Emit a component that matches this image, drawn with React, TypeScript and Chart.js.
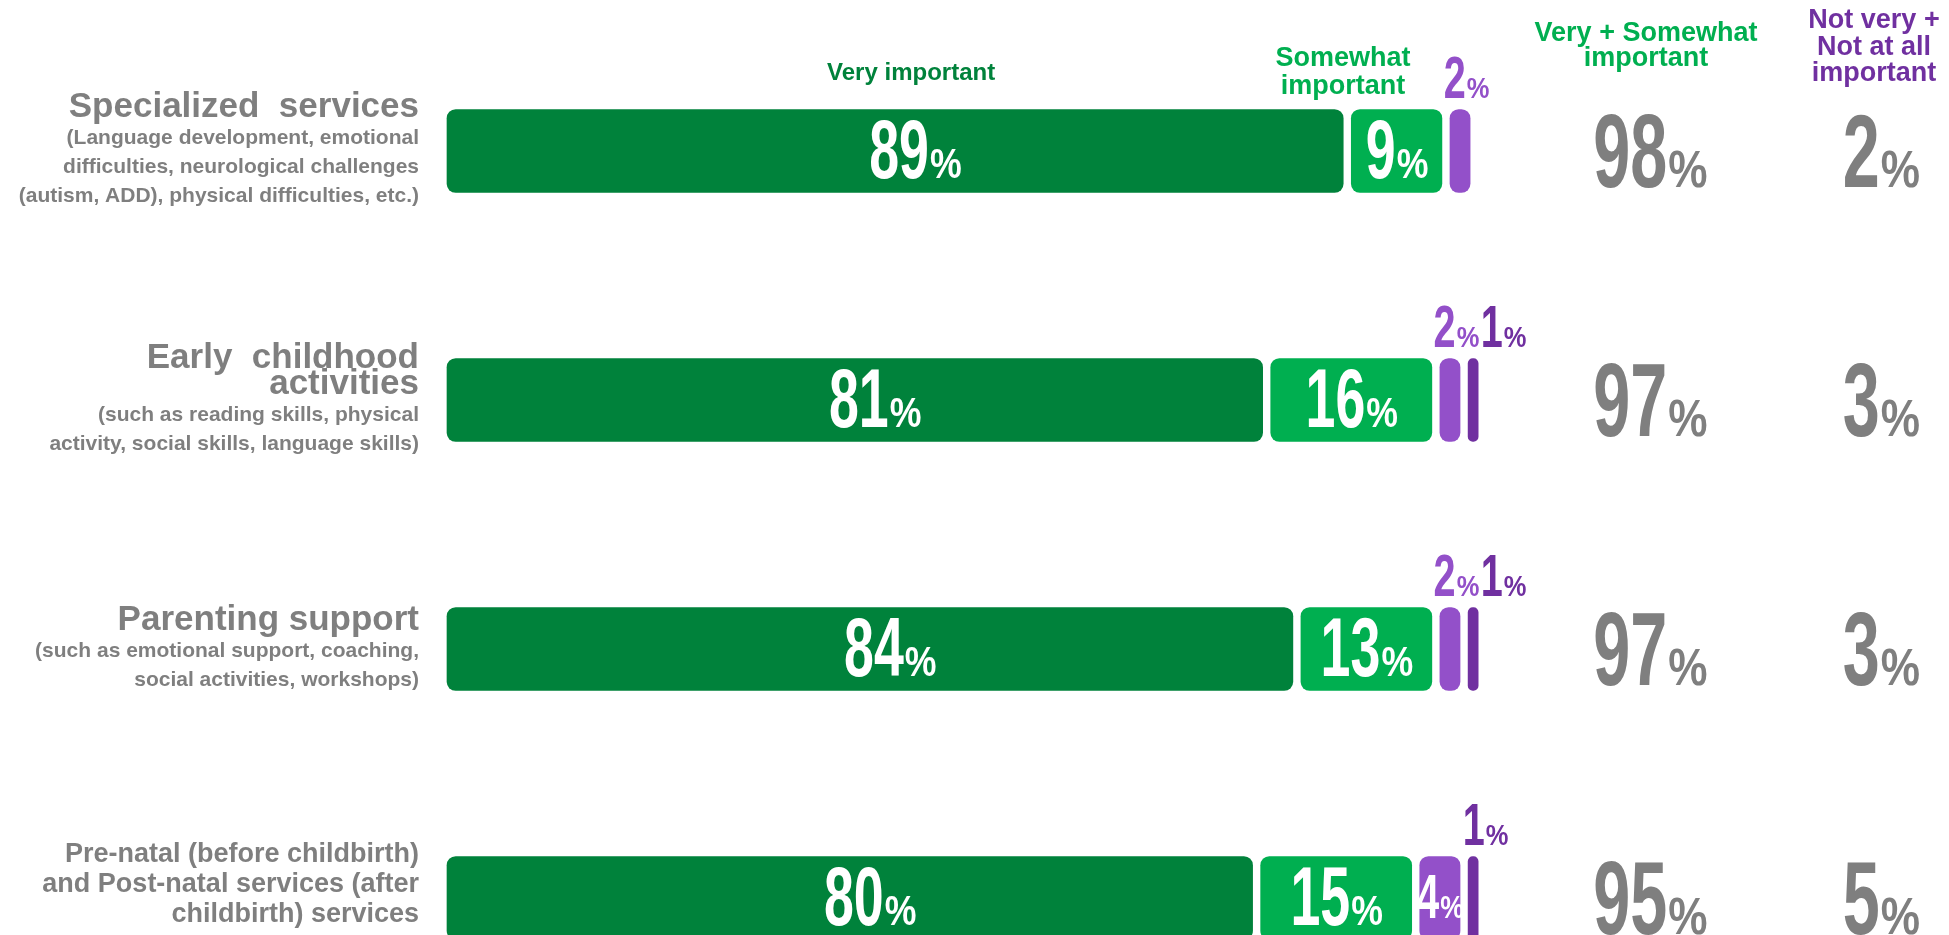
import React, { useEffect, useRef } from "react";
import { Chart, registerables } from "chart.js";

Chart.register(...registerables);

// ---------- data ----------
const CATEGORIES = [
  "Specialized services",
  "Early childhood activities",
  "Parenting support",
  "Pre-natal and Post-natal services",
];

type LineKind = "title" | "sub" | "plain";
const CATEGORY_LINES: { t: string; k: LineKind }[][] = [
  [
    { t: "Specialized  services", k: "title" },
    { t: "(Language development, emotional", k: "sub" },
    { t: "difficulties, neurological challenges", k: "sub" },
    { t: "(autism, ADD), physical difficulties, etc.)", k: "sub" },
  ],
  [
    { t: "Early  childhood", k: "title" },
    { t: "activities", k: "title" },
    { t: "(such as reading skills, physical", k: "sub" },
    { t: "activity, social skills, language skills)", k: "sub" },
  ],
  [
    { t: "Parenting support", k: "title" },
    { t: "(such as emotional support, coaching,", k: "sub" },
    { t: "social activities, workshops)", k: "sub" },
  ],
  [
    { t: "Pre-natal (before childbirth)", k: "plain" },
    { t: "and Post-natal services (after", k: "plain" },
    { t: "childbirth) services", k: "plain" },
  ],
];

const SERIES_NAMES = [
  "Very important",
  "Somewhat important",
  "Not very important",
  "Not at all important",
];
const VERY = [89, 81, 84, 80];
const SOMEWHAT = [9, 16, 13, 15];
const NOT_VERY = [2, 2, 2, 4];
const NOT_AT_ALL = [0, 1, 1, 1];

const HEADER_SOMEWHAT = ["Somewhat", "important"];
const HEADER_TOP2 = ["Very + Somewhat", "important"];
const HEADER_BOTTOM2 = ["Not very +", "Not at all", "important"];

// ---------- style ----------
const COLORS = ["#00823B", "#00AF50", "#9350C9", "#7030A0"];
const GRAY = "#7f7f7f";
const FONT = '"Liberation Sans", Arial, sans-serif';
const GAP = 0.8;
const X_MAX = 110;
const PX_PER_UNIT = 10.07;
const W = 1949;
const H = 935;
const LEFT = 447;

const SERIES = [VERY, SOMEWHAT, NOT_VERY, NOT_AT_ALL];
const TOP2 = VERY.map((v, i) => v + SOMEWHAT[i]);
const BOTTOM2 = NOT_VERY.map((v, i) => v + NOT_AT_ALL[i]);

function drawPct(
  ctx: CanvasRenderingContext2D,
  n: number,
  x: number,
  baseline: number,
  size: number,
  color: string,
  weight: string,
  sx: number,
  mode: "center" | "digits"
) {
  const numFont = `${weight} ${size}px ${FONT}`;
  const pSize = size * 0.5;
  const pFont = `${weight} ${pSize}px ${FONT}`;
  const psx = 0.85;
  ctx.font = numFont;
  const nw = ctx.measureText(String(n)).width * sx;
  ctx.font = pFont;
  const pw = ctx.measureText("%").width * psx;
  const start = mode === "digits" ? x - nw / 2 : x - (nw + pw) / 2;
  ctx.save();
  ctx.fillStyle = color;
  ctx.textAlign = "left";
  ctx.textBaseline = "alphabetic";
  ctx.translate(start, baseline);
  ctx.scale(sx, 1);
  ctx.font = numFont;
  ctx.fillText(String(n), 0, 0);
  ctx.restore();
  ctx.save();
  ctx.fillStyle = color;
  ctx.textAlign = "left";
  ctx.textBaseline = "alphabetic";
  ctx.translate(start + nw + 1, baseline);
  ctx.scale(psx, 1);
  ctx.font = pFont;
  ctx.fillText("%", 0, 0);
  ctx.restore();
}

const KIND_SIZE: Record<LineKind, number> = { title: 35, sub: 21, plain: 27 };
function lineGap(prev: LineKind, next: LineKind) {
  if (prev === "title" && next === "title") return 26;
  if (prev === "title" && next === "sub") return 27;
  if (prev === "plain") return 30;
  return 29;
}

const annotPlugin = {
  id: "annot",
  afterDatasetsDraw(chart: any) {
    const ctx: CanvasRenderingContext2D = chart.ctx;
    const yScale = chart.scales.y;
    const xScale = chart.scales.x;

    // segment labels
    CATEGORIES.forEach((_, i) => {
      let prevAbove = false;
      SERIES.forEach((vals, j) => {
        const v = vals[i];
        if (!v) return;
        const el = chart.getDatasetMeta(j).data[i];
        if (!el) return;
        const p = el.getProps(["x", "base", "y", "height"], true);
        const left = Math.min(p.x, p.base);
        const right = Math.max(p.x, p.base);
        const w = right - left;
        const cx = (left + right) / 2;
        if (w >= 40) {
          const size = w >= 70 ? 84 : 63;
          const baseline = p.y + 0.358 * size - 3;
          drawPct(ctx, v, j === 0 ? cx + 4 : cx, baseline, size, "#ffffff", "bold", 0.64, j === 0 ? "digits" : "center");
          prevAbove = false;
        } else {
          const baseline = p.y - p.height / 2 - 12;
          const off = prevAbove ? 30 : j === 3 ? 12 : 6;
          drawPct(ctx, v, cx + off, baseline, 60, COLORS[j], "bold", 0.66, "center");
          prevAbove = true;
        }
      });
    });

    // category labels
    ctx.save();
    ctx.fillStyle = GRAY;
    ctx.textAlign = "right";
    ctx.textBaseline = "alphabetic";
    CATEGORY_LINES.forEach((lines, i) => {
      const c = yScale.getPixelForValue(i);
      const rel: number[] = [0];
      for (let k = 1; k < lines.length; k++) rel.push(rel[k - 1] + lineGap(lines[k - 1].k, lines[k].k));
      const capTop = -0.716 * KIND_SIZE[lines[0].k];
      const mid = (capTop + rel[rel.length - 1]) / 2;
      const hasTitle = lines.some((l) => l.k === "title");
      const b0 = c - (hasTitle ? 4 : 16) - mid;
      lines.forEach((ln, k) => {
        ctx.font = `bold ${KIND_SIZE[ln.k]}px ${FONT}`;
        ctx.fillText(ln.t, LEFT - 28, b0 + rel[k]);
      });
    });
    ctx.restore();

    // headers
    ctx.save();
    ctx.textAlign = "center";
    ctx.textBaseline = "alphabetic";
    ctx.font = `bold 24px ${FONT}`;
    ctx.fillStyle = COLORS[0];
    ctx.fillText(SERIES_NAMES[0], xScale.getPixelForValue(VERY[0] / 2) + 16, 80);
    ctx.font = `bold 27px ${FONT}`;
    ctx.fillStyle = COLORS[1];
    HEADER_SOMEWHAT.forEach((t, k) => ctx.fillText(t, 1343, 66 + k * 28));
    HEADER_TOP2.forEach((t, k) => ctx.fillText(t, 1646, 41 + k * 25));
    ctx.fillStyle = COLORS[3];
    HEADER_BOTTOM2.forEach((t, k) => ctx.fillText(t, 1874, 28 + k * 26.5));
    ctx.restore();

    // totals
    CATEGORIES.forEach((_, i) => {
      const c = yScale.getPixelForValue(i);
      drawPct(ctx, TOP2[i], 1650, c + 36, 104, GRAY, "bold", 0.64, "center");
      drawPct(ctx, BOTTOM2[i], 1881, c + 36, 104, GRAY, "bold", 0.64, "center");
    });
  },
};

export default function App() {
  const ref = useRef<HTMLCanvasElement | null>(null);
  useEffect(() => {
    if (!ref.current) return;
    const datasets = SERIES.map((vals, j) => ({
      label: SERIES_NAMES[j],
      data: vals.map((v, i) => {
        if (!v) return null;
        let start = j * GAP;
        for (let k = 0; k < j; k++) start += SERIES[k][i];
        return [start, start + v];
      }),
      backgroundColor: COLORS[j],
      borderWidth: 0,
      borderRadius: 9,
      borderSkipped: false,
      grouped: false,
      barThickness: 83,
      clip: false,
    }));
    const chart = new Chart(ref.current, {
      type: "bar",
      data: { labels: CATEGORIES, datasets: datasets as any },
      options: {
        indexAxis: "y",
        responsive: false,
        animation: false,
        devicePixelRatio: 1,
        layout: {
          padding: {
            left: LEFT,
            right: W - LEFT - X_MAX * PX_PER_UNIT,
            top: 151,
            bottom: 37,
          },
        },
        scales: {
          x: { type: "linear", min: 0, max: X_MAX, display: false },
          y: { type: "category", offset: false, display: false },
        },
        plugins: { legend: { display: false }, tooltip: { enabled: false } },
      } as any,
      plugins: [annotPlugin],
    });
    return () => chart.destroy();
  }, []);
  return (
    <div style={{ position: "fixed", left: 0, top: 0, width: W, height: H, background: "#fff" }}>
      <canvas ref={ref} width={W} height={H} style={{ display: "block", width: W, height: H }} />
    </div>
  );
}
